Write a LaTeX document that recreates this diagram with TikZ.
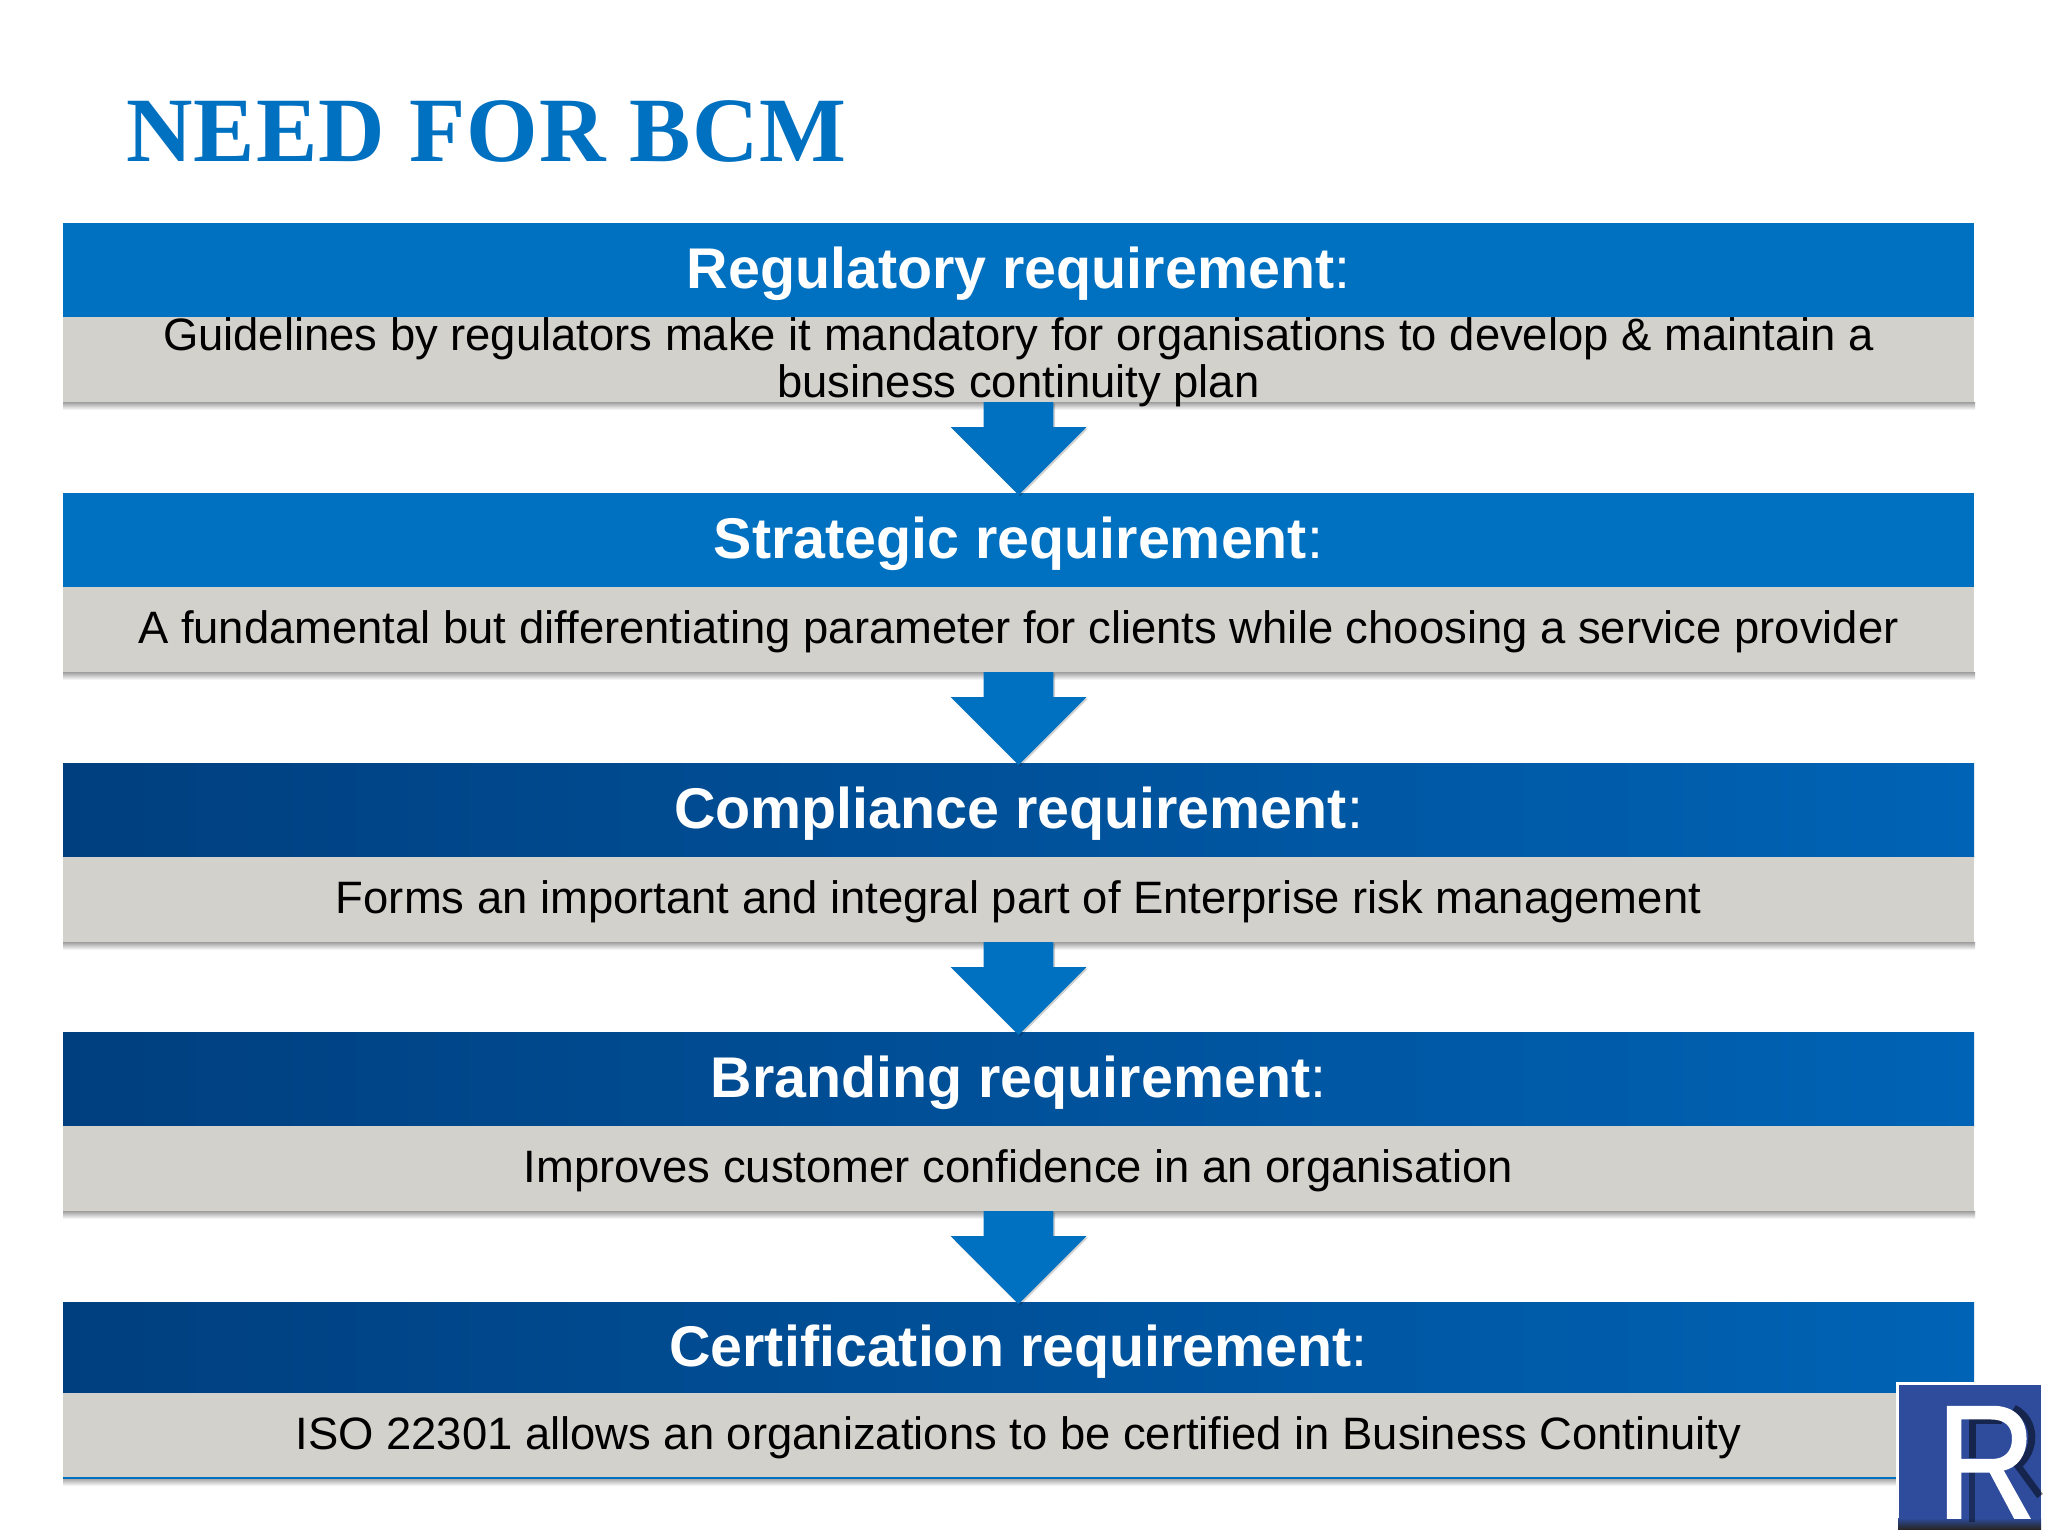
\documentclass[tikz,border=0pt]{standalone}
\usepackage{fontspec}
\setmainfont{Liberation Sans}
\newfontfamily\titlefont[LetterSpace=1.2]{Liberation Serif}
\newfontfamily\logofont[FakeStretch=.85,FakeBold=1]{Liberation Sans}
\usetikzlibrary{calc,positioning,shapes.arrows,shadows}
\definecolor{bcmblue}{HTML}{0070C0}
\definecolor{bcmdark}{HTML}{003F7F}
\definecolor{bcmright}{HTML}{0063B5}
\definecolor{bcmgray}{HTML}{D3D1CB}
\definecolor{logoblue}{HTML}{2E4B9C}
\tikzset{
  x=.5pt,y=-.5pt,
  box/.style={rectangle,minimum width=955.5pt,outer sep=0pt,inner sep=0pt,align=center},
  head/.style={box,minimum height=47pt,text=white,text height=24pt,text depth=5.4pt,
    font=\fontsize{28.7}{32}\selectfont},
  flat/.style={head,fill=bcmblue},
  grad/.style={head,left color=bcmdark,right color=bcmright},
  body/.style={box,minimum height=42.5pt,fill=bcmgray,text=black,text height=20pt,text depth=5.7pt,
    font=\fontsize{22.7}{23.5}\selectfont},
  soft/.style={top color=black!38,bottom color=white,draw=none},
  down/.style={single arrow,shape border rotate=270,fill=bcmblue,draw=none,
    inner xsep=17.25pt,inner ysep=12.5pt,outer sep=0pt,minimum height=46.5pt,anchor=tail,
    single arrow head extend=16.5pt,single arrow tip angle=90,
    general shadow={fill=black,opacity=.18,shadow xshift=.8pt,shadow yshift=-.8pt}},
}
\newcommand{\hd}[1]{\textbf{#1}:}
\begin{document}
\begin{tikzpicture}
\useasboundingbox (0,0) rectangle (2048,1536);
\fill[white] (0,0) rectangle (2048,1536);
\node[anchor=base west,inner sep=0pt,text=bcmblue,font=\titlefont\bfseries\fontsize{46}{50}\selectfont] (title) at (126,162) {NEED FOR BCM};

\node[flat] (h1) at (1018.5,270) {\hd{Regulatory requirement}};
\node[body,below=0pt of h1] (b1) {};
\node[flat] (h2) at (1018.5,540) {\hd{Strategic requirement}};
\node[body,below=0pt of h2] (b2) {A fundamental but differentiating parameter for clients while choosing a service provider};
\node[grad] (h3) at (1018.5,810) {\hd{Compliance requirement}};
\node[body,below=0pt of h3] (b3) {Forms an important and integral part of Enterprise risk management};
\node[grad] (h4) at (1018.5,1079) {\hd{Branding requirement}};
\node[body,below=0pt of h4] (b4) {Improves customer confidence in an organisation};
\node[grad,minimum height=45.5pt] (h5) at (1018.5,1347.5) {\hd{Certification requirement}};
\node[body,below=0pt of h5] (b5) {ISO 22301 allows an organizations to be certified in Business Continuity};

% soft shadows under the grey bars
\foreach \b in {b1,b2,b3,b4,b5}
  \shade[soft] (\b.south west) rectangle ($(\b.south east)+(1,8)$);
\draw[bcmblue,line width=1.2pt] (b5.south west) -- (b5.south east);

\foreach \a [count=\i] in {b1,b2,b3,b4}
  \node[down] (a\i) at (\a.south) {};

% two-line text runs over its bar, above the arrow
\node[inner sep=0pt,align=center,text=black,font=\fontsize{22.7}{23.5}\selectfont] (t1) at ($(b1.center)+(0,3)$) {Guidelines by regulators make it mandatory for organisations to develop \& maintain a\\business continuity plan};

% logo
\node[rectangle,fill=logoblue,draw=white,line width=1.5pt,minimum width=72.5pt,minimum height=73.5pt,outer sep=0pt,inner sep=0pt] (logo) at (1969.5,1456.5) {};
\shade[top color=logoblue,bottom color=black!85] (1898,1518) rectangle (2041,1529);
\draw[black,opacity=.5,line width=3.5pt] (1972,1458) -- (1972,1420) -- (2002,1420);
\draw[black,opacity=.4,line width=3pt] (1972,1472) -- (1972,1522);
\draw[black,opacity=.5,line width=3.5pt] (2014,1408) .. controls (2037,1420) and (2037,1450) .. (2018,1466) -- (2040,1496);
\node[anchor=base west,inner sep=0pt,text=white,font=\logofont\fontsize{81}{81}\selectfont] (r) at (1936,1518) {R};
\end{tikzpicture}
\end{document}
